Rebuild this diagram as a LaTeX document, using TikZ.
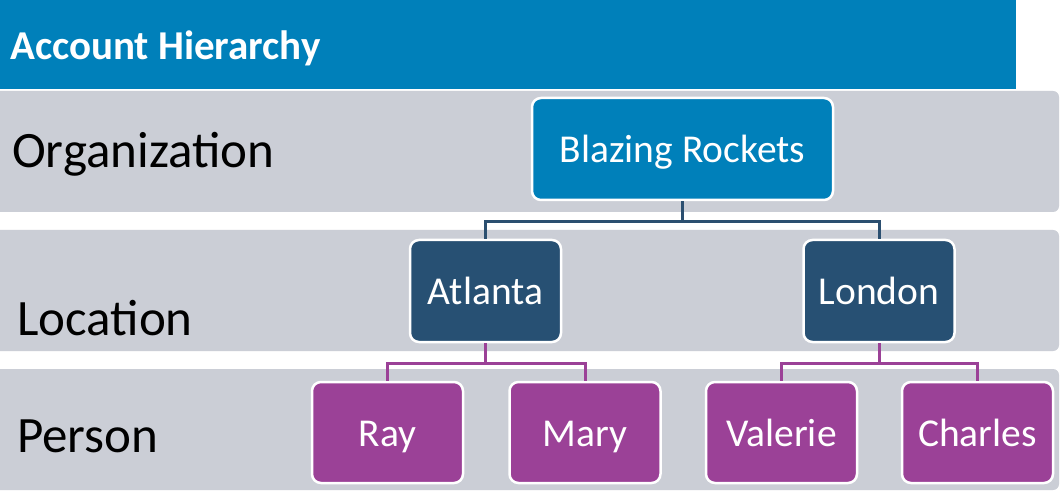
\documentclass[tikz,border=0pt]{standalone}
\usepackage{fontspec}
\setmainfont{Carlito}
\definecolor{hdrblue}{HTML}{0080BA}
\definecolor{bandgray}{HTML}{CBCED6}
\definecolor{locblue}{HTML}{275073}
\definecolor{perspurple}{HTML}{9B4197}
\definecolor{linkblue}{HTML}{2B4F70}
\begin{document}
\begin{tikzpicture}[x=1pt,y=-1pt,
  band/.style={fill=bandgray,rounded corners=6pt},
  boxnode/.style={draw=white,line width=2.5pt,rounded corners=9pt,text=white,
    font=\fontsize{39.5}{42}\selectfont,inner sep=0pt,text height=28pt,text depth=0pt},
  orgbox/.style={boxnode,fill=hdrblue,minimum width=301pt,minimum height=102pt},
  locbox/.style={boxnode,fill=locblue,minimum width=151pt,minimum height=102pt},
  perbox/.style={boxnode,fill=perspurple,minimum width=151pt,minimum height=101pt},
  levellabel/.style={anchor=base west,inner sep=0pt,font=\fontsize{51}{54}\selectfont},
  bluelink/.style={draw=linkblue,line width=3pt},
  purplelink/.style={draw=perspurple,line width=3pt}]
\useasboundingbox (0,0) rectangle (1060,494);
\fill[white] (0,0) rectangle (1060,494);
% header
\fill[hdrblue] (0,0) rectangle (1016,89);
\node[anchor=base west,inner sep=0pt,text=white,font=\fontsize{41}{44}\selectfont\bfseries] (title) at (10,60) {Account Hierarchy};
% bands
\path[band] (-12,91) rectangle (1059,212);
\path[band] (-12,230) rectangle (1059,351);
\path[band] (-12,369) rectangle (1059,490);
% level labels
\node[levellabel] (lorg) at (12,168) {Organization};
\node[levellabel] (lloc) at (17,335) {Location};
\node[levellabel] (lper) at (17,452) {Person};
% nodes
\node[orgbox] (br) at (682.5,149) {Blazing Rockets};
\node[locbox] (atl) at (485.5,291) {Atlanta};
\node[locbox] (lon) at (879,291) {London};
\node[perbox] (ray) at (387.5,432.5) {Ray};
\node[perbox] (mary) at (585,432.5) {Mary};
\node[perbox] (val) at (781.5,432.5) {Valerie};
\node[perbox] (cha) at (977.5,432.5) {Charles};
% connectors
\draw[bluelink] (br.south) -- ++(0,20) -| (atl.north);
\draw[bluelink] (br.south) -- ++(0,20) -| (lon.north);
\draw[purplelink] (atl.south) -- ++(0,20) -| (ray.north);
\draw[purplelink] (atl.south) -- ++(0,20) -| (mary.north);
\draw[purplelink] (lon.south) -- ++(0,20) -| (val.north);
\draw[purplelink] (lon.south) -- ++(0,20) -| (cha.north);
\end{tikzpicture}
\end{document}
